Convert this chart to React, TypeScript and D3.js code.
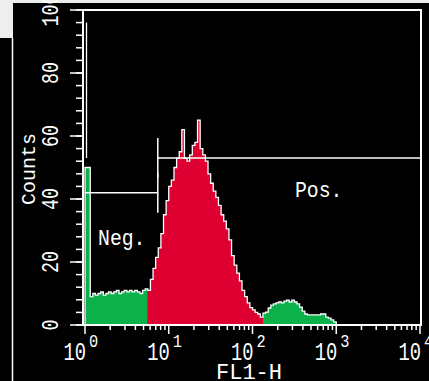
import React from 'react';
import * as d3 from 'd3';

const W = 429;
const H = 381;

// FL1-H histogram: 32 channels per decade, counts per channel (later channels are empty)
const CHANNELS_PER_DECADE = 32;
const counts = [
  50, 50, 9, 10, 9.5, 10, 10.5, 9.5, 10, 10.5,
  10, 10.5, 11, 10, 10.5, 11, 10.5, 11, 10.5, 11,
  10.5, 10, 11, 11.5,
  11, 14.5, 18, 21.5, 24.5, 29, 35, 39.5, 44, 46,
  50, 53, 55, 62, 53, 52, 54, 57, 58, 65,
  56, 54, 52, 48, 45, 42.5, 40.5, 38, 35, 33,
  30.5, 27, 22, 19, 16.5, 14, 11, 9, 7, 5.5,
  4.8, 4, 3.5, 2.5,
  3.8, 4.1, 5.4, 6.3, 6.7, 7, 7.3, 7, 7.6, 7.9,
  7.3, 7.9, 7.3, 6.7, 5.7, 4.4, 3.5, 3.2, 3.2, 3.2,
  3.2, 3.2, 3.5, 3.5, 2.5, 2.2, 1.6, 1,
];
const firstChannelPeak = 96;
// gated region (red), in FL1-H units
const gate = [5.6, 133];

// markers
const markerNames = ['Neg.', 'Pos.'];
const markerStart = [1, 7.4];
const markerEnd = [7.4, 10000];
const markerCount = [42, 53];
const markerLabelX = [1.43, 321];
const markerLabelCount = [25.4, 40.6];

const xDecades = [1, 10, 100, 1000, 10000];
const xExponents = ['0', '1', '2', '3', '4'];
const yMajor = [0, 20, 40, 60, 80, 100];
const yMinorStep = 4;

const GREEN = '#0cb14b';
const RED = '#de0030';
const FONT = '"Liberation Mono", "DejaVu Sans Mono", monospace';

function Txt(props: {
  x: number; y: number; size: number; sx?: number; rotate?: number;
  anchor?: 'start' | 'middle' | 'end'; children: React.ReactNode;
}) {
  const { x, y, size, sx = 1, rotate = 0, anchor = 'start', children } = props;
  return (
    <text
      transform={`translate(${x},${y}) rotate(${rotate}) scale(${sx},1)`}
      fontFamily={FONT}
      fontSize={size}
      fill="#fff"
      textAnchor={anchor}
    >
      {children}
    </text>
  );
}

export default function App() {
  const x = d3.scaleLog().domain([1, 1e4]).range([85, 420]);
  const y = d3.scaleLinear().domain([0, 100]).range([325, 10]);
  const edge = (i: number) => x(Math.pow(10, i / CHANNELS_PER_DECADE));
  const center = (i: number) => Math.pow(10, (i + 0.5) / CHANNELS_PER_DECADE);
  const isRed = (i: number) => center(i) >= gate[0] && center(i) < gate[1];

  // split channels into colour segments
  const segments: { from: number; to: number; red: boolean }[] = [];
  counts.forEach((_, i) => {
    const red = isRed(i);
    const last = segments[segments.length - 1];
    if (last && last.red === red) last.to = i;
    else segments.push({ from: i, to: i, red });
  });

  const area = d3.area<[number, number]>()
    .x(d => d[0])
    .y0(y(0))
    .y1(d => y(d[1]))
    .curve(d3.curveStepAfter);

  const line = d3.line<[number, number]>()
    .x(d => d[0])
    .y(d => y(d[1]))
    .curve(d3.curveStepAfter);

  const outlinePts: [number, number][] = [[edge(0), 0]];
  counts.forEach((c, i) => outlinePts.push([edge(i), c]));
  outlinePts.push([edge(counts.length), 0]);

  // log minor ticks
  const xMinor: number[] = [];
  for (let d = 0; d < 4; d++) for (let k = 2; k <= 9; k++) xMinor.push(k * Math.pow(10, d));
  const yMinor = d3.range(0, 101, yMinorStep);

  const left = 83;
  const right = 421;
  const top = y(100);
  const bottom = y(0);

  return (
    <svg width={W} height={H} style={{ position: 'fixed', left: 0, top: 0 }}>
      <rect width={W} height={H} fill="#000" />
      <rect width={W} height={3} fill="#eeeeee" />
      <rect width={13} height={38} fill="#eeeeee" />
      <line x1={12.5} x2={12.5} y1={38} y2={H} stroke="#fff" strokeWidth={1.5} />

      {/* histogram fill */}
      {segments.map((s, k) => {
        const pts: [number, number][] = [];
        for (let i = s.from; i <= s.to; i++) pts.push([edge(i), counts[i]]);
        pts.push([edge(s.to + 1), counts[s.to]]);
        return <path key={k} d={area(pts) || ''} fill={s.red ? RED : GREEN} />;
      })}
      {/* outline */}
      <path d={line(outlinePts) || ''} fill="none" stroke="#fff" strokeWidth={1.3} />
      <line x1={edge(0) + 1.5} x2={edge(0) + 1.5} y1={y(markerCount[1])} y2={y(firstChannelPeak)} stroke="#fff" strokeWidth={1.3} />

      {/* markers: inner end ticks only (outer ends sit on the frame) */}
      {markerNames.map((m, i) => (
        <g key={m} stroke="#fff" strokeWidth={1.5}>
          <line x1={x(markerStart[i])} x2={x(markerEnd[i])} y1={y(markerCount[i])} y2={y(markerCount[i])} />
          {i > 0 && <line x1={x(markerStart[i])} x2={x(markerStart[i])} y1={y(markerCount[i]) - 20} y2={y(markerCount[i]) + 20} />}
          {i < markerNames.length - 1 && <line x1={x(markerEnd[i])} x2={x(markerEnd[i])} y1={y(markerCount[i]) - 20} y2={y(markerCount[i]) + 20} />}
        </g>
      ))}
      {markerNames.map((m, i) => (
        <Txt key={m} x={x(markerLabelX[i])} y={y(markerLabelCount[i])} size={22} sx={0.9}>{m}</Txt>
      ))}

      {/* frame */}
      <rect x={left} y={top} width={right - left} height={bottom - top} fill="none" stroke="#fff" strokeWidth={2} />

      {/* y axis ticks */}
      {yMinor.map(v => (
        <line key={'ym' + v} x1={76} x2={left} y1={y(v)} y2={y(v)} stroke="#fff" strokeWidth={1.5} />
      ))}
      {yMajor.map(v => (
        <g key={'y' + v}>
          <line x1={70} x2={left} y1={y(v)} y2={y(v)} stroke="#fff" strokeWidth={1.5} />
          <Txt x={58} y={y(v)} size={23} sx={0.8} rotate={-90} anchor="middle">{v}</Txt>
        </g>
      ))}
      <Txt x={35} y={169} size={21} sx={0.95} rotate={-90} anchor="middle">Counts</Txt>

      {/* x axis ticks */}
      {xMinor.map(v => (
        <line key={'xm' + v} x1={x(v)} x2={x(v)} y1={bottom} y2={bottom + 5} stroke="#fff" strokeWidth={1.5} />
      ))}
      {xDecades.map((v, i) => (
        <g key={'x' + v}>
          <line x1={x(v)} x2={x(v)} y1={bottom} y2={bottom + 9} stroke="#fff" strokeWidth={1.5} />
          <Txt x={x(v) + 1} y={360} size={25} sx={0.75} anchor="end">10</Txt>
          <Txt x={x(v) + 4} y={347} size={18} sx={0.85}>{xExponents[i]}</Txt>
        </g>
      ))}
      <Txt x={249} y={379} size={22} anchor="middle">FL1-H</Txt>
    </svg>
  );
}
